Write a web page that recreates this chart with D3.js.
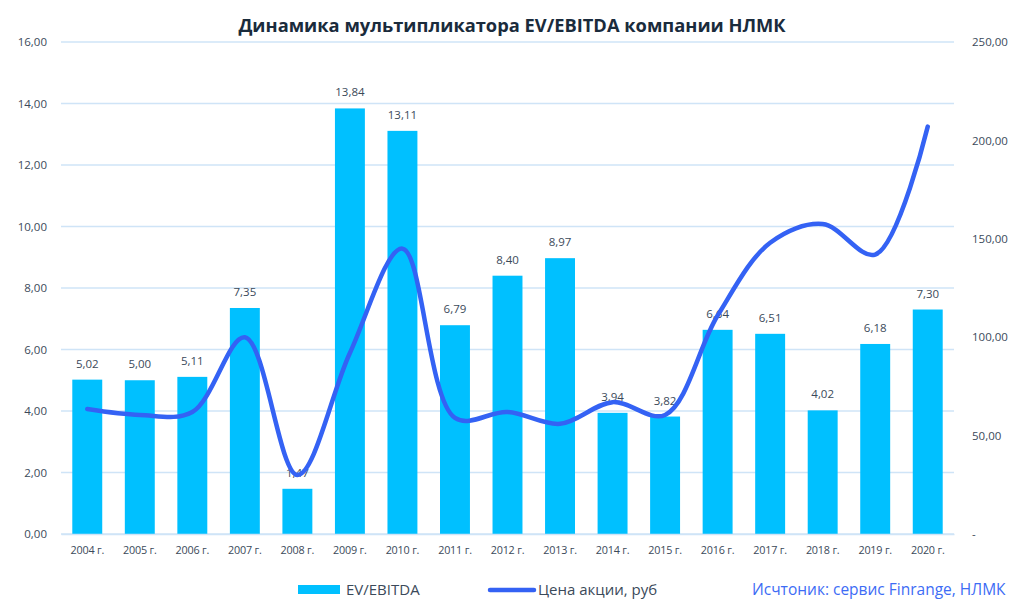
<!DOCTYPE html>
<html><head><meta charset="utf-8">
<script src="https://cdn.jsdelivr.net/npm/d3@7"></script>
<style>body{margin:0;background:#fff;} text{font-family:"Open Sans",sans-serif;}</style>
</head><body>
<svg id="c" width="1024" height="610"></svg>
<script>
const years = ["2004 г.","2005 г.","2006 г.","2007 г.","2008 г.","2009 г.","2010 г.","2011 г.","2012 г.","2013 г.","2014 г.","2015 г.","2016 г.","2017 г.","2018 г.","2019 г.","2020 г."];
const evEbitda = [5.02,5.00,5.11,7.35,1.47,13.84,13.11,6.79,8.40,8.97,3.94,3.82,6.64,6.51,4.02,6.18,7.30];
const price = [63.5,60.5,62,100,30,92,145,59,62,56,67,60.5,111,148,157.5,142,207];
const leftTicks = [0,2,4,6,8,10,12,14,16];
const rightTicks = [0,50,100,150,200,250];

const svg = d3.select("#c");
const L = 61, R = 954, T = 42, B = 534;
const x = d3.scaleBand().domain(years).range([L, R]).paddingInner(0.43).paddingOuter(0.215);
const yL = d3.scaleLinear().domain([0,16]).range([B,T]);
const yR = d3.scaleLinear().domain([0,250]).range([B,T]);
const fmt = v => d3.format(".2f")(v).replace(".", ",");
const txt = "#3b4a5a";

// grid
svg.append("g").selectAll("line").data(leftTicks).join("line")
  .attr("x1", L).attr("x2", R).attr("y1", d=>yL(d)).attr("y2", d=>yL(d))
  .attr("stroke", "#cfe4f7").attr("stroke-width", 1.3);

// left axis labels
const axL = svg.append("g").attr("transform", `translate(${L},0)`)
  .call(d3.axisLeft(yL).tickValues(leftTicks).tickFormat(fmt).tickSize(0).tickPadding(14));
axL.select(".domain").remove();
axL.selectAll("text").attr("fill", txt).attr("font-size", 11.5);

const axR = svg.append("g").attr("transform", `translate(${R},0)`)
  .call(d3.axisRight(yR).tickValues(rightTicks).tickFormat(d => d===0 ? "-" : fmt(d)).tickSize(0).tickPadding(18));
axR.select(".domain").remove();
axR.selectAll("text").attr("fill", txt).attr("font-size", 11.5);

// bars
svg.append("g").selectAll("rect").data(evEbitda).join("rect")
  .attr("x", (d,i)=>x(years[i])).attr("width", x.bandwidth())
  .attr("y", d=>yL(d)).attr("height", d=>B - yL(d))
  .attr("fill", "#00c0ff");

// bar labels
svg.append("g").selectAll("text").data(evEbitda).join("text")
  .attr("x", (d,i)=>x(years[i]) + x.bandwidth()/2).attr("y", d=>yL(d) - 12)
  .attr("text-anchor","middle").attr("fill", txt).attr("font-size", 11.5)
  .text(fmt);

// line
const line = d3.line().x((d,i)=>x(years[i]) + x.bandwidth()/2).y(d=>yR(d)).curve(d3.curveCatmullRom.alpha(0.5));
svg.append("path").datum(price).attr("d", line).attr("fill","none")
  .attr("stroke","#3462f4").attr("stroke-width",4.5).attr("stroke-linecap","round");

// x axis
const axX = svg.append("g").attr("transform", `translate(0,${B})`)
  .call(d3.axisBottom(x).tickSize(0).tickPadding(12));
axX.select(".domain").attr("stroke","#cfe4f7").attr("stroke-width",1.3);
axX.selectAll("text").attr("fill", txt).attr("font-size", 10.8).attr("letter-spacing", -0.2);

// title
svg.append("text").attr("x", 512).attr("y", 32).attr("text-anchor","middle")
  .attr("font-size", 18.3).attr("font-weight","bold").attr("fill","#1a2b3c")
  .text("Динамика мультипликатора EV/EBITDA компании НЛМК");

// legend
svg.append("rect").attr("x",298).attr("y",585).attr("width",42).attr("height",9).attr("fill","#00c0ff");
svg.append("text").attr("x",346).attr("y",595).attr("font-size",15).attr("fill",txt).text("EV/EBITDA");
svg.append("line").attr("x1",490).attr("x2",534).attr("y1",590).attr("y2",590)
  .attr("stroke","#3462f4").attr("stroke-width",4.5).attr("stroke-linecap","round");
svg.append("text").attr("x",538).attr("y",595).attr("font-size",15).attr("fill",txt).text("Цена акции, руб");
svg.append("text").attr("x",752).attr("y",595).attr("font-size",15.5).attr("fill","#3d6cf5").text("Исчтоник: сервис Finrange, НЛМК");
</script>
</body></html>
